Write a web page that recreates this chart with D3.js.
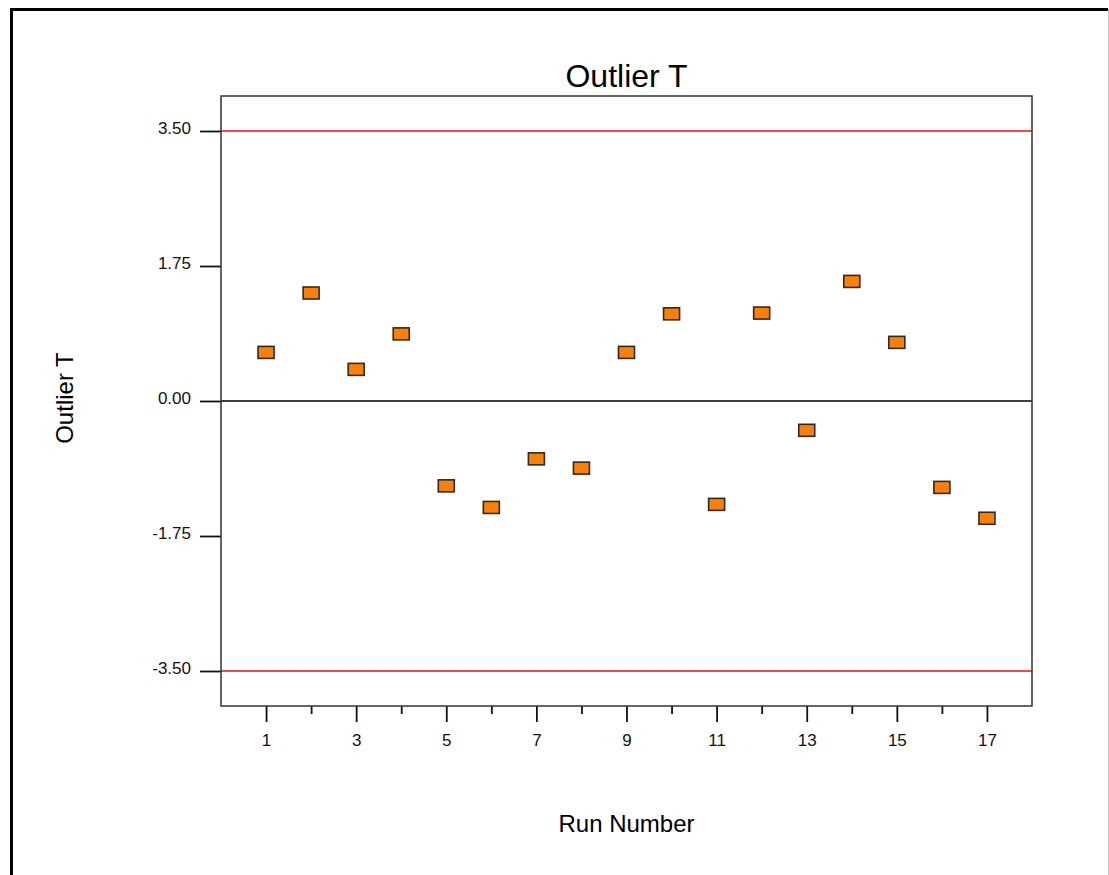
<!DOCTYPE html>
<html>
<head>
  <meta charset="utf-8">
  <title>Outlier T</title>
  <script src="https://d3js.org/d3.v7.min.js"></script>
  <style>
    body { margin: 0; background-color: #fff; }
    svg { display: block; font-family: "Liberation Sans", Arial, sans-serif; }
    .tick text { font-size: 17px; fill: #111; }
  </style>
</head>
<body>
  <div id="my_dataviz"></div>
  <script>
    // run numbers and outlier T values
    var runs = [1, 2, 3, 4, 5, 6, 7, 8, 9, 10, 11, 12, 13, 14, 15, 16, 17];
    var outlierT = [0.63, 1.40, 0.41, 0.87, -1.10, -1.38, -0.75, -0.87, 0.63, 1.13,
                    -1.34, 1.14, -0.38, 1.55, 0.76, -1.12, -1.52];
    var limits = [3.5, -3.5];
    var yTicks = [3.5, 1.75, 0, -1.75, -3.5];
    var xMajorTicks = [1, 3, 5, 7, 9, 11, 13, 15, 17];
    var xMinorTicks = [2, 4, 6, 8, 10, 12, 14, 16];

    var W = 1109, H = 875;
    var margin = {top: 96, right: 77, bottom: 169, left: 221},
        width = W - margin.left - margin.right,
        height = H - margin.top - margin.bottom;

    var root = d3.select("#my_dataviz")
      .append("svg")
        .attr("width", W)
        .attr("height", H);

    // outer window frame
    root.append("path")
      .attr("d", "M11.5," + H + "V9.5H1108")
      .attr("fill", "none")
      .attr("stroke", "#000")
      .attr("stroke-width", 3);
    root.append("line")
      .attr("x1", 1108.5).attr("x2", 1108.5)
      .attr("y1", 9).attr("y2", H)
      .attr("stroke", "#c8c8c8");

    var svg = root.append("g")
      .attr("transform", "translate(" + margin.left + "," + margin.top + ")");

    var x = d3.scaleLinear()
      .domain([0, 18])
      .range([0, width]);

    var yMax = 3.5 + 35 / (540 / 7);
    var y = d3.scaleLinear()
      .domain([-yMax, yMax])
      .range([height, 0]);

    // x axis: labelled odd runs, short minor ticks on even runs
    var xAxis = svg.append("g")
      .attr("transform", "translate(0," + height + ")")
      .call(d3.axisBottom(x).tickValues(xMajorTicks).tickSize(16).tickPadding(12)
        .tickFormat(d3.format("d")));
    xAxis.select(".domain").remove();
    xAxis.selectAll("line").attr("stroke", "#111").attr("stroke-width", 1.8);

    var xMinor = svg.append("g")
      .attr("transform", "translate(0," + height + ")")
      .call(d3.axisBottom(x).tickValues(xMinorTicks).tickSize(8).tickFormat(""));
    xMinor.select(".domain").remove();
    xMinor.selectAll("line").attr("stroke", "#111").attr("stroke-width", 1.8);

    var fmt = d3.format(".2f");
    var yAxis = svg.append("g")
      .call(d3.axisLeft(y).tickValues(yTicks).tickSize(21).tickPadding(9)
        .tickFormat(function(d) { return fmt(d).replace("\u2212", "-"); }));
    yAxis.select(".domain").remove();
    yAxis.selectAll("line").attr("stroke", "#111").attr("stroke-width", 1.8);
    yAxis.selectAll("text").attr("dy", "0.15em");

    // control limits
    svg.selectAll(".limit")
      .data(limits)
      .enter()
      .append("line")
        .attr("class", "limit")
        .attr("x1", 0).attr("x2", width)
        .attr("y1", function(d) { return y(d); })
        .attr("y2", function(d) { return y(d); })
        .attr("stroke", "#e81010")
        .attr("stroke-width", 1.5);

    // zero line
    svg.append("line")
      .attr("x1", 0).attr("x2", width)
      .attr("y1", y(0)).attr("y2", y(0))
      .attr("stroke", "#000")
      .attr("stroke-width", 1.4);

    // plot frame
    svg.append("rect")
      .attr("x", 0).attr("y", 0)
      .attr("width", width).attr("height", height)
      .attr("fill", "none")
      .attr("stroke", "#333")
      .attr("stroke-width", 1.5);

    // points
    var data = runs.map(function(r, i) { return {run: r, value: outlierT[i]}; });
    svg.selectAll(".pt")
      .data(data)
      .enter()
      .append("rect")
        .attr("class", "pt")
        .attr("x", function(d) { return x(d.run) - 8; })
        .attr("y", function(d) { return y(d.value) - 6; })
        .attr("width", 16)
        .attr("height", 12)
        .attr("fill", "#ff8000")
        .attr("stroke", "#2a2a2a")
        .attr("stroke-width", 1.6);

    // titles
    root.append("text")
      .attr("x", margin.left + width / 2)
      .attr("y", 87)
      .attr("text-anchor", "middle")
      .style("font-size", "32px")
      .text("Outlier T");

    root.append("text")
      .attr("x", margin.left + width / 2)
      .attr("y", 832)
      .attr("text-anchor", "middle")
      .style("font-size", "24px")
      .text("Run Number");

    root.append("text")
      .attr("transform", "translate(73,398) rotate(-90)")
      .attr("text-anchor", "middle")
      .style("font-size", "24px")
      .text("Outlier T");
  </script>
</body>
</html>
